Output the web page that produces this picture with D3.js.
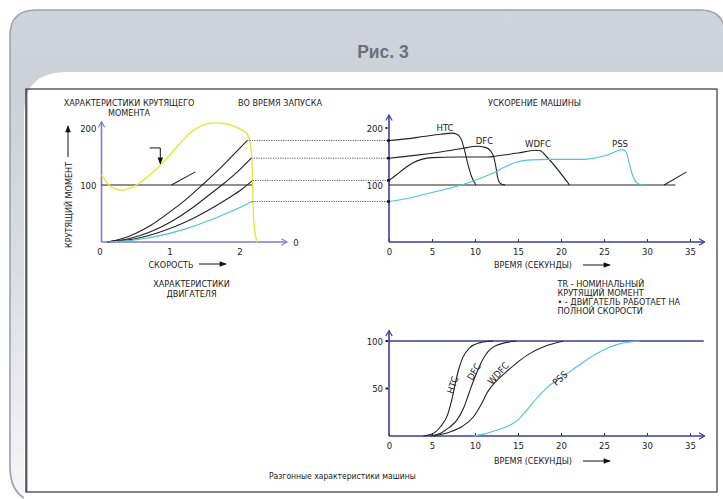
<!DOCTYPE html>
<html><head><meta charset="utf-8">
<script src="https://cdn.jsdelivr.net/npm/d3@7"></script>
<style>
html,body{margin:0;padding:0;background:#fff;}
svg{display:block;}
text{font-family:"DejaVu Sans Condensed","Liberation Sans Narrow","Arial Narrow",sans-serif;fill:#222;}
</style>
</head><body><svg id="c" width="723" height="499"></svg>
<script>
// ---------- DATA ----------
// Left chart: motor characteristics (x: speed 0..2, y: torque)
const speedTicks = [0, 1, 2];
const torqueTicks = [100, 200];
const motorTorque = [[0,118],[0.1,101],[0.2,93],[0.3,91],[0.42,95],[0.55,104],[0.7,119],[0.85,136],[1.0,156],[1.15,177],[1.3,195],[1.45,205],[1.6,209],[1.75,208],[1.9,203],[2.0,197],[2.08,190],[2.12,176],[2.145,150],[2.16,100],[2.17,50],[2.19,20],[2.22,0]];
const loadHTC  = [[0.08,0],[0.3,6],[0.5,16],[0.7,29],[1.0,55],[1.2,74],[1.44,100],[1.7,130],[1.9,155],[2.08,178]];
const loadDFC  = [[0.08,0],[0.4,6],[0.7,18],[1.0,36],[1.3,60],[1.5,79],[1.72,100],[1.95,124],[2.14,147]];
const loadWDFC = [[0.08,0],[0.5,6],[0.9,20],[1.2,35],[1.5,54],[1.8,76],[2.0,92],[2.16,108]];
const loadPSS  = [[0.08,0],[0.5,4],[0.9,13],[1.2,23],[1.5,36],[1.8,51],[2.0,62],[2.15,71]];
const motorRef = [100];
const motorTail = [[1.0,100],[1.34,123]];

// Middle chart: acceleration torque vs time
const timeTicks = [0, 5, 10, 15, 20, 25, 30, 35];
const accelHTC  = [[0,178],[2,181],[4,185],[6,189],[7.3,191],[7.9,189],[8.4,180],[8.8,160],[9.2,135],[9.6,115],[10.1,100]];
const accelDFC  = [[0,147],[3,152],[6,158],[8.5,164],[10.2,168],[11.2,166],[11.8,160],[12.2,148],[12.45,130],[12.65,112],[13,102],[13.5,100]];
const accelWDFC = [[0,108],[0.8,117],[1.8,129],[2.8,139],[3.8,145],[5,148],[8,149],[11.5,149],[12.5,151],[15,156],[17,161],[17.6,160],[18.3,150],[21,100]];
const accelPSS  = [[0,71],[2,76],[5,87],[7.5,96],[9.4,105],[10.8,113],[12.1,121],[13.5,132],[14.8,140],[16.5,144],[18.7,145],[22.6,145],[24.5,149],[25.8,155],[26.7,161],[27.2,162],[27.6,157],[27.9,140],[28.3,118],[28.8,104],[29.3,100.5],[30,100]];
const accelRef = [[0,100],[33.3,100]];
const accelTail = [[32,100],[34.6,123]];

// Bottom chart: speed (%) vs time
const speedPctTicks = [50, 100];
const speedHTC  = [[4,0],[5,2],[6,10],[6.8,22],[7.3,38],[7.7,55],[8.1,70],[8.6,83],[9.4,93],[10.5,98],[12.1,100]];
const speedDFC  = [[4.8,0],[6,3],[7,9],[8,18],[8.7,30],[9.3,45],[9.9,60],[10.5,73],[11.2,85],[12.4,95],[14.8,100]];
const speedWDFC = [[5.2,0],[7,4],[8.5,10],[9.8,20],[10.7,33],[11.5,47],[12.5,58],[13.7,68],[15,78],[16.4,87],[18,94],[20.3,100]];
const speedPSS  = [[9.8,0],[11,2],[12.5,6],[14,11],[15,17],[16,27],[17.2,40],[18.5,52],[20.3,63],[22,74],[24,86],[25.5,93],[26.8,97],[29.2,100]];

const noteLines = ["TR - НОМИНАЛЬНЫЙ", "КРУТЯЩИЙ МОМЕНТ", "• - ДВИГАТЕЛЬ РАБОТАЕТ НА", "ПОЛНОЙ СКОРОСТИ"];

// ---------- DRAW ----------
const svg = d3.select("#c");
const defs = svg.append("defs");
const g1 = defs.append("linearGradient").attr("id","card").attr("x1",0).attr("y1",0).attr("x2",0).attr("y2",1);
g1.append("stop").attr("offset","0").attr("stop-color","#d0d5dd");
g1.append("stop").attr("offset","0.15").attr("stop-color","#ccd1d9");
g1.append("stop").attr("offset","0.5").attr("stop-color","#d8dce2");
g1.append("stop").attr("offset","1").attr("stop-color","#f6f7f9");

function chevron(id, color){
  defs.append("marker").attr("id",id).attr("viewBox","0 0 10 10").attr("refX",9).attr("refY",5)
    .attr("markerWidth",8).attr("markerHeight",8).attr("markerUnits","userSpaceOnUse").attr("orient","auto")
    .append("path").attr("d","M2,1 L9,5 L2,9").attr("fill","none").attr("stroke",color).attr("stroke-width",1.4);
}
chevron("chevL","#7c7cc8");
chevron("chevM","#3c3c9c");
defs.append("marker").attr("id","tri").attr("viewBox","0 0 10 10").attr("refX",9).attr("refY",5)
  .attr("markerWidth",10).attr("markerHeight",7).attr("markerUnits","userSpaceOnUse").attr("orient","auto")
  .append("path").attr("d","M0,1 L10,5 L0,9 Z").attr("fill","#111");

// card
svg.append("path").attr("d","M10,467 L10,36 Q10,10 36,10 L700,10 Q725,10 725,35 L725,478 Q725,503 700,503 L46,503 Q10,503 10,467 Z")
  .attr("fill","url(#card)").attr("stroke","#9ba3ad").attr("stroke-width",1.6);
svg.append("path").attr("d","M24,520 L24,114 Q24,72 66,72 L730,72 L730,520 Z").attr("fill","#fff");
svg.append("text").attr("x",383).attr("y",58).attr("text-anchor","middle")
  .style("font-family","'Liberation Sans',Arial,sans-serif").style("font-weight","bold").style("font-size","17.5px")
  .style("fill","#6b7079").text("Рис. 3");
svg.append("line").attr("x1",26.5).attr("x2",26.5).attr("y1",89).attr("y2",492).attr("stroke","#8a8a8a").attr("stroke-width",2.2);
svg.append("rect").attr("x",26).attr("y",89).attr("width",691).attr("height",403)
  .attr("fill","none").attr("stroke","#444").attr("stroke-width",1.3);

const F = 9;
function label(x,y,t,anchor,size){
  return svg.append("text").attr("x",x).attr("y",y).attr("text-anchor",anchor||"start")
    .style("font-size",(size||F)+"px").text(t);
}
const lineGen = (xs,ys) => d3.line().x(d=>xs(d[0])).y(d=>ys(d[1])).curve(d3.curveMonotoneX);

// ----- Left chart -----
const xL = d3.scaleLinear().domain([0,2.65]).range([101.5,287]);
const yL = d3.scaleLinear().domain([0,200]).range([242,128]);
const axL = "#7c7cc8";
svg.append("g").attr("transform",`translate(0,${yL(0)})`)
  .call(d3.axisBottom(xL).tickValues(speedTicks).tickSize(0).tickPadding(6).tickFormat(d3.format("d")))
  .call(g=>{g.select(".domain").remove(); g.selectAll("text").style("font-size","9.5px").style("font-family",null).attr("dx","-2");});
svg.append("g").attr("transform",`translate(${xL(0)},0)`)
  .call(d3.axisLeft(yL).tickValues(torqueTicks).tickSize(0).tickPadding(5))
  .call(g=>{g.select(".domain").remove(); g.selectAll("text").style("font-size","9.5px").style("font-family",null);});
svg.append("line").attr("x1",xL(0)).attr("y1",yL(0)).attr("x2",xL(2.65)).attr("y2",yL(0))
  .attr("stroke",axL).attr("stroke-width",1.6).attr("marker-end","url(#chevL)");
svg.append("line").attr("x1",xL(0)).attr("y1",yL(0)).attr("x2",xL(0)).attr("y2",yL(211))
  .attr("stroke",axL).attr("stroke-width",1.6).attr("marker-end","url(#chevL)");
label(xL(2.74),yL(0)+3.5,"0","start",9.5);
svg.append("line").attr("x1",xL(0)).attr("x2",xL(2.16)).attr("y1",yL(motorRef[0])).attr("y2",yL(motorRef[0]))
  .attr("stroke","#222").attr("stroke-width",1.1);
[[loadHTC,"#222"],[loadDFC,"#222"],[loadWDFC,"#222"],[loadPSS,"#4cc4d6"]].forEach(([d,c])=>{
  svg.append("path").datum(d).attr("d",lineGen(xL,yL)).attr("fill","none").attr("stroke",c).attr("stroke-width",1.1);
});
svg.append("path").datum(motorTail).attr("d",lineGen(xL,yL)).attr("fill","none").attr("stroke","#222").attr("stroke-width",1.1);
svg.append("path").datum(motorTorque).attr("d",lineGen(xL,yL)).attr("fill","none").attr("stroke","#e8e63a").attr("stroke-width",1.4);
// pointer arrow
svg.append("path").attr("d",`M${xL(0.69)},${yL(165)} H${xL(0.84)} V${yL(137)}`)
  .attr("fill","none").attr("stroke","#111").attr("stroke-width",1).attr("marker-end","url(#tri)");

// texts left
label(129,106,"ХАРАКТЕРИСТИКИ КРУТЯЩЕГО","middle");
label(129,116,"МОМЕНТА","middle");
label(238,106,"ВО ВРЕМЯ ЗАПУСКА","start");
label(171,267.5,"СКОРОСТЬ","middle");
svg.append("line").attr("x1",199).attr("x2",226).attr("y1",264).attr("y2",264).attr("stroke","#111").attr("stroke-width",1).attr("marker-end","url(#tri)");
label(191.5,287,"ХАРАКТЕРИСТИКИ","middle");
label(191.5,297,"ДВИГАТЕЛЯ","middle");
svg.append("text").attr("transform","translate(71.5,205) rotate(-90)").attr("text-anchor","middle").style("font-size",F+"px").text("КРУТЯЩИЙ МОМЕНТ");
svg.append("line").attr("x1",68).attr("x2",68).attr("y1",157).attr("y2",126).attr("stroke","#111").attr("stroke-width",1).attr("marker-end","url(#tri)");

// ----- Middle chart -----
const xM = d3.scaleLinear().domain([0,35]).range([389,690]);
const yM = d3.scaleLinear().domain([0,200]).range([242,128]);
const axM = "#3c3c9c";
svg.append("g").attr("transform",`translate(0,${yM(0)})`)
  .call(d3.axisBottom(xM).tickValues(timeTicks).tickSizeInner(-3).tickSizeOuter(0).tickPadding(6))
  .call(g=>{g.select(".domain").remove(); g.selectAll("line").attr("stroke","#333");
    g.selectAll("text").style("font-size","9.5px").style("font-family",null);});
svg.append("g").attr("transform",`translate(${xM(0)},0)`)
  .call(d3.axisLeft(yM).tickValues(torqueTicks).tickSize(0).tickPadding(6))
  .call(g=>{g.select(".domain").remove(); g.selectAll("text").style("font-size","9.5px").style("font-family",null);});
svg.append("line").attr("x1",xM(0)).attr("y1",yM(0)).attr("x2",xM(36.7)).attr("y2",yM(0))
  .attr("stroke",axM).attr("stroke-width",1.6).attr("marker-end","url(#chevM)");
svg.append("line").attr("x1",xM(0)).attr("y1",yM(0)).attr("x2",xM(0)).attr("y2",yM(223))
  .attr("stroke",axM).attr("stroke-width",1.6).attr("marker-end","url(#chevM)");
svg.append("rect").attr("x",xM(0)-3.5).attr("y",yM(200)-1).attr("width",2).attr("height",2).attr("fill","#222");
svg.append("path").datum(accelRef).attr("d",lineGen(xM,yM)).attr("fill","none").attr("stroke","#222").attr("stroke-width",1.2);
[[accelHTC,"#222"],[accelDFC,"#222"],[accelWDFC,"#222"],[accelPSS,"#4cc4d6"],[accelTail,"#222"]].forEach(([d,c])=>{
  svg.append("path").datum(d).attr("d",lineGen(xM,yM)).attr("fill","none").attr("stroke",c).attr("stroke-width",1.1);
});
// dotted connectors
[loadHTC,loadDFC,loadWDFC,loadPSS].forEach(d=>{
  const e = d[d.length-1];
  svg.append("line").attr("x1",xL(e[0])).attr("x2",xM(0)).attr("y1",yL(e[1])).attr("y2",yL(e[1]))
    .attr("stroke","#333").attr("stroke-width",0.8).attr("stroke-dasharray","1.2,1.2");
  svg.append("rect").attr("x",xM(0)-2).attr("y",yL(e[1])-1.2).attr("width",3).attr("height",2.4).attr("fill","#111");
});
label(445,130.5,"HTC","middle",9.5);
label(484.5,143.5,"DFC","middle",9.5);
label(538,146.5,"WDFC","middle",9.5);
label(620,146.5,"PSS","middle",9.5);
label(488,106,"УСКОРЕНИЕ МАШИНЫ","start");
label(533,268,"ВРЕМЯ (СЕКУНДЫ)","middle");
svg.append("line").attr("x1",583).attr("x2",610).attr("y1",265).attr("y2",265).attr("stroke","#111").attr("stroke-width",1).attr("marker-end","url(#tri)");

// notes
noteLines.forEach((t,i)=>label(557.5,287+i*9,t,"start"));

// ----- Bottom chart -----
const xB = d3.scaleLinear().domain([0,35]).range([389,690]);
const yB = d3.scaleLinear().domain([0,100]).range([436,341]);
svg.append("g").attr("transform",`translate(0,${yB(0)})`)
  .call(d3.axisBottom(xB).tickValues(timeTicks).tickSizeInner(-3).tickSizeOuter(0).tickPadding(6))
  .call(g=>{g.select(".domain").remove(); g.selectAll("line").attr("stroke","#333");
    g.selectAll("text").style("font-size","9.5px").style("font-family",null);});
svg.append("g").attr("transform",`translate(${xB(0)},0)`)
  .call(d3.axisLeft(yB).tickValues(speedPctTicks).tickSize(0).tickPadding(6))
  .call(g=>{g.select(".domain").remove(); g.selectAll("text").style("font-size","9.5px").style("font-family",null);});
speedPctTicks.forEach(v=>svg.append("rect").attr("x",xB(0)-3.5).attr("y",yB(v)-1).attr("width",2.5).attr("height",2).attr("fill","#222"));
svg.append("line").attr("x1",xB(0)).attr("y1",yB(0)).attr("x2",xB(36.7)).attr("y2",yB(0))
  .attr("stroke",axM).attr("stroke-width",1.6).attr("marker-end","url(#chevM)");
svg.append("line").attr("x1",xB(0)).attr("y1",yB(0)).attr("x2",xB(0)).attr("y2",yB(111))
  .attr("stroke",axM).attr("stroke-width",1.6).attr("marker-end","url(#chevM)");
svg.append("line").attr("x1",xB(0)).attr("y1",yB(100)).attr("x2",xB(36.6)).attr("y2",yB(100))
  .attr("stroke",axM).attr("stroke-width",1.4);
[[speedHTC,"#222"],[speedDFC,"#222"],[speedWDFC,"#222"],[speedPSS,"#4cc4d6"]].forEach(([d,c])=>{
  svg.append("path").datum(d).attr("d",lineGen(xB,yB)).attr("fill","none").attr("stroke",c).attr("stroke-width",1.1);
});
[["HTC",452.7,385,-72],["DFC",474,371.7,-60],["WDFC",498.3,373.3,-48],["PSS",560,378.3,-42]].forEach(([t,x,y,a])=>{
  svg.append("text").attr("transform",`translate(${x},${y}) rotate(${a})`).attr("text-anchor","middle")
    .attr("dy","0.35em").style("font-size","9.5px").text(t);
});
label(533,464,"ВРЕМЯ (СЕКУНДЫ)","middle");
svg.append("line").attr("x1",583).attr("x2",610).attr("y1",461).attr("y2",461).attr("stroke","#111").attr("stroke-width",1).attr("marker-end","url(#tri)");
svg.append("text").attr("x",269).attr("y",479).style("font-size","8.5px")
  .text("Разгонные характеристики машины");
</script></body></html>
